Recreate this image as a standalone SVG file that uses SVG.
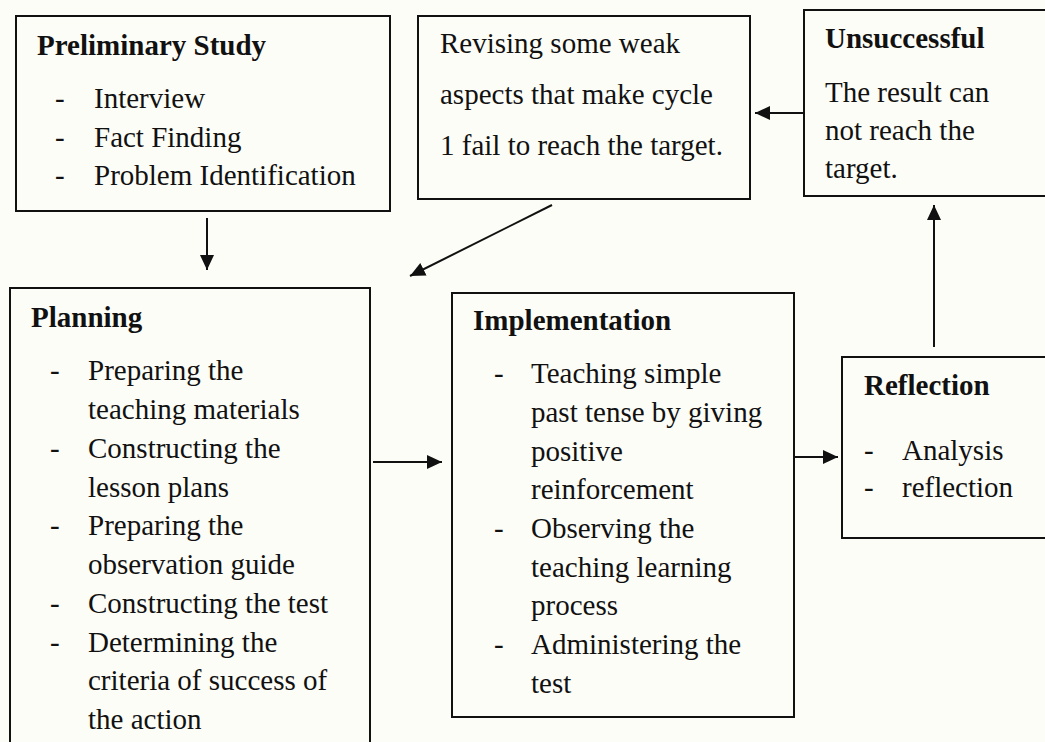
<svg xmlns="http://www.w3.org/2000/svg" width="1045" height="742" viewBox="0 0 1045 742">
  <style>
    .box { fill: none; stroke: #111; stroke-width: 2; }
    .t { font-family: "Liberation Serif", "Times New Roman", serif; font-size: 29px; fill: #111; }
    .h { font-weight: bold; }
    .edge { stroke: #111; stroke-width: 2; fill: none; marker-end: url(#head); }
  </style>
  <defs>
    <marker id="head" markerWidth="16" markerHeight="14" refX="15" refY="7" orient="auto" markerUnits="userSpaceOnUse">
      <path d="M0,0 L15,7 L0,14 Z" fill="#111"/>
    </marker>
  </defs>
  <rect width="1045" height="742" fill="#fdfdf8"/>

  <!-- Preliminary study -->
  <g id="preliminary">
    <rect class="box" x="16" y="16" width="374" height="195"/>
    <text class="t h" x="37" y="55">Preliminary Study</text>
    <text class="t" x="55" y="108">-</text><text class="t" x="94" y="108">Interview</text>
    <text class="t" x="55" y="147">-</text><text class="t" x="94" y="147">Fact Finding</text>
    <text class="t" x="55" y="185">-</text><text class="t" x="94" y="185">Problem Identification</text>
  </g>

  <!-- Revision of cycle 1 -->
  <g id="revising">
    <rect class="box" x="418" y="16" width="332" height="183"/>
    <text class="t" x="440" y="53">Revising some weak</text>
    <text class="t" x="440" y="104">aspects that make cycle</text>
    <text class="t" x="440" y="155">1 fail to reach the target.</text>
  </g>

  <!-- Unsuccessful outcome -->
  <g id="unsuccessful">
    <rect class="box" x="804" y="10" width="260" height="186"/>
    <text class="t h" x="825" y="48">Unsuccessful</text>
    <text class="t" x="825" y="102">The result can</text>
    <text class="t" x="825" y="140">not reach the</text>
    <text class="t" x="825" y="178">target.</text>
  </g>

  <!-- Planning -->
  <g id="planning">
    <rect class="box" x="10" y="288" width="360" height="480"/>
    <text class="t h" x="31" y="327">Planning</text>
    <text class="t" x="50" y="380">-</text><text class="t" x="88" y="380">Preparing the</text>
    <text class="t" x="88" y="419">teaching materials</text>
    <text class="t" x="50" y="458">-</text><text class="t" x="88" y="458">Constructing the</text>
    <text class="t" x="88" y="497">lesson plans</text>
    <text class="t" x="50" y="535">-</text><text class="t" x="88" y="535">Preparing the</text>
    <text class="t" x="88" y="574">observation guide</text>
    <text class="t" x="50" y="613">-</text><text class="t" x="88" y="613">Constructing the test</text>
    <text class="t" x="50" y="652">-</text><text class="t" x="88" y="652">Determining the</text>
    <text class="t" x="88" y="690">criteria of success of</text>
    <text class="t" x="88" y="729">the action</text>
  </g>

  <!-- Implementation -->
  <g id="implementation">
    <rect class="box" x="452" y="293" width="342" height="424"/>
    <text class="t h" x="473" y="330">Implementation</text>
    <text class="t" x="494" y="383">-</text><text class="t" x="531" y="383">Teaching simple</text>
    <text class="t" x="531" y="422">past tense by giving</text>
    <text class="t" x="531" y="461">positive</text>
    <text class="t" x="531" y="499">reinforcement</text>
    <text class="t" x="494" y="538">-</text><text class="t" x="531" y="538">Observing the</text>
    <text class="t" x="531" y="577">teaching learning</text>
    <text class="t" x="531" y="615">process</text>
    <text class="t" x="494" y="654">-</text><text class="t" x="531" y="654">Administering the</text>
    <text class="t" x="531" y="693">test</text>
  </g>

  <!-- Reflection -->
  <g id="reflection">
    <rect class="box" x="842" y="357" width="222" height="181"/>
    <text class="t h" x="864" y="395">Reflection</text>
    <text class="t" x="864" y="460">-</text><text class="t" x="902" y="460">Analysis</text>
    <text class="t" x="864" y="497">-</text><text class="t" x="902" y="497">reflection</text>
  </g>

  <!-- Connectors -->
  <g id="connectors">
    <line class="edge" x1="207" y1="218" x2="207" y2="270"/>
    <line class="edge" x1="552" y1="205" x2="410" y2="276"/>
    <line class="edge" x1="804" y1="113" x2="755" y2="113"/>
    <line class="edge" x1="373" y1="462" x2="442" y2="462"/>
    <line class="edge" x1="794" y1="457" x2="838" y2="457"/>
    <line class="edge" x1="934" y1="347" x2="934" y2="205"/>
  </g>
</svg>
